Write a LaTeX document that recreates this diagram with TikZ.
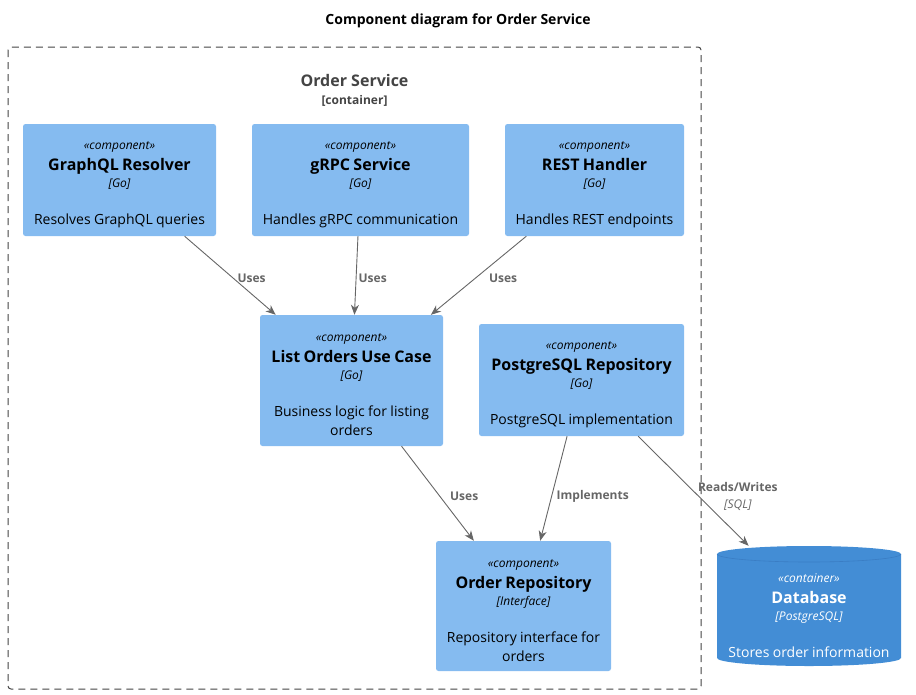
\documentclass[tikz,border=0pt]{standalone}
\usepackage{fontspec}
\setmainfont{Open Sans}
\usepackage{tikz}
\usetikzlibrary{arrows.meta}
\tikzset{>={Stealth[length=10pt,width=8pt,inset=3pt]}}
\definecolor{compfill}{HTML}{85BBF0}
\definecolor{dbfill}{HTML}{438DD5}
\definecolor{dbedge}{HTML}{3A7DC4}
\definecolor{relgray}{HTML}{666666}
\definecolor{boundgray}{HTML}{444444}

\newcommand{\elemtext}[4]{%
  \vskip 3pt
  {\fontsize{12}{14}\itshape\selectfont «#1»\par}%
  {\fontsize{16}{21}\bfseries\selectfont #2\par}%
  {\fontsize{12}{17}\itshape\selectfont [#3]\par}%
  \vskip 18pt
  {\fontsize{14}{19}\selectfont #4\par}}

\tikzset{
  comp/.style={rectangle, rounded corners=2.5pt, fill=compfill, inner xsep=4pt, inner ysep=0pt, align=center},
  dbnode/.style={rectangle, inner xsep=4pt, inner ysep=0pt, align=center, text=white},
  rel/.style={->, draw=relgray, line width=0.9pt},
  rellabel/.style={font=\fontsize{12}{14}\bfseries\selectfont, text=relgray, anchor=west, inner sep=0pt, yshift=-3pt}
}

\begin{document}
\begin{tikzpicture}[x=1pt, y=1pt]
            \useasboundingbox (0, 0) rectangle (916, -694);
            \node[font=\fontsize{14}{17}\bfseries\selectfont] (title) at (458, -20.5) {Component diagram for Order Service};
            \draw[boundgray, line width=1pt, dash pattern=on 7pt off 5pt, rounded corners=3pt] (8, -47) rectangle (701, -689);
            \node[font=\fontsize{16}{19}\bfseries\selectfont, text=boundgray] (svcname) at (354.5, -80.5) {Order Service};
            \node[font=\fontsize{12}{14}\bfseries\selectfont, text=boundgray] (svctype) at (354.5, -100.5) {[container]};

            \node[comp, text width=185pt, minimum height=112pt] (graphql) at (119.5, -180) {\elemtext{component}{GraphQL Resolver}{Go}{Resolves GraphQL queries}};
            \node[comp, text width=209pt, minimum height=112pt] (grpc) at (360.5, -180) {\elemtext{component}{gRPC Service}{Go}{Handles gRPC communication}};
            \node[comp, text width=171pt, minimum height=112pt] (rest) at (594.5, -180) {\elemtext{component}{REST Handler}{Go}{Handles REST endpoints}};
            \node[comp, text width=175pt, minimum height=131pt] (listorders) at (351.5, -380.5) {\elemtext{component}{List Orders Use Case}{Go}{Business logic for listing\\orders}};
            \node[comp, text width=197pt, minimum height=112pt] (pgrepo) at (581.5, -380) {\elemtext{component}{PostgreSQL Repository}{Go}{PostgreSQL implementation}};
            \node[comp, text width=167pt, minimum height=130pt] (orderrepo) at (523.5, -606) {\elemtext{component}{Order Repository}{Interface}{Repository interface for\\orders}};

            \fill[dbfill] (717, -554) arc[start angle=180, end angle=0, x radius=92pt, y radius=8pt] -- (901, -658) arc[start angle=0, end angle=-180, x radius=92pt, y radius=8pt] -- cycle;
            \draw[dbedge, line width=0.6pt] (717, -554) arc[start angle=180, end angle=360, x radius=92pt, y radius=8pt];
            \node[dbnode, text width=176pt, minimum height=120pt] (database) at (809, -606) {\vskip 11pt\elemtext{container}{Database}{PostgreSQL}{Stores order information}};

            \draw[rel] (graphql) -- node[rellabel, xshift=7pt] {Uses} (listorders);
            \draw[rel] (grpc) -- node[rellabel, xshift=2pt] {Uses} (listorders);
            \draw[rel] (rest) -- node[rellabel, xshift=10pt] {Uses} (listorders);
            \draw[rel] (listorders) -- node[rellabel, xshift=12pt] {Uses} (orderrepo);
            \draw[rel] (pgrepo) -- node[rellabel, pos=0.55, xshift=4pt] {Implements} (orderrepo);
            \draw[rel] (pgrepo) -- node[rellabel, pos=0.52, xshift=2pt, align=center] {Reads/Writes\\[3pt]{\mdseries\itshape [SQL]}} (database);
        \end{tikzpicture}
\end{document}
